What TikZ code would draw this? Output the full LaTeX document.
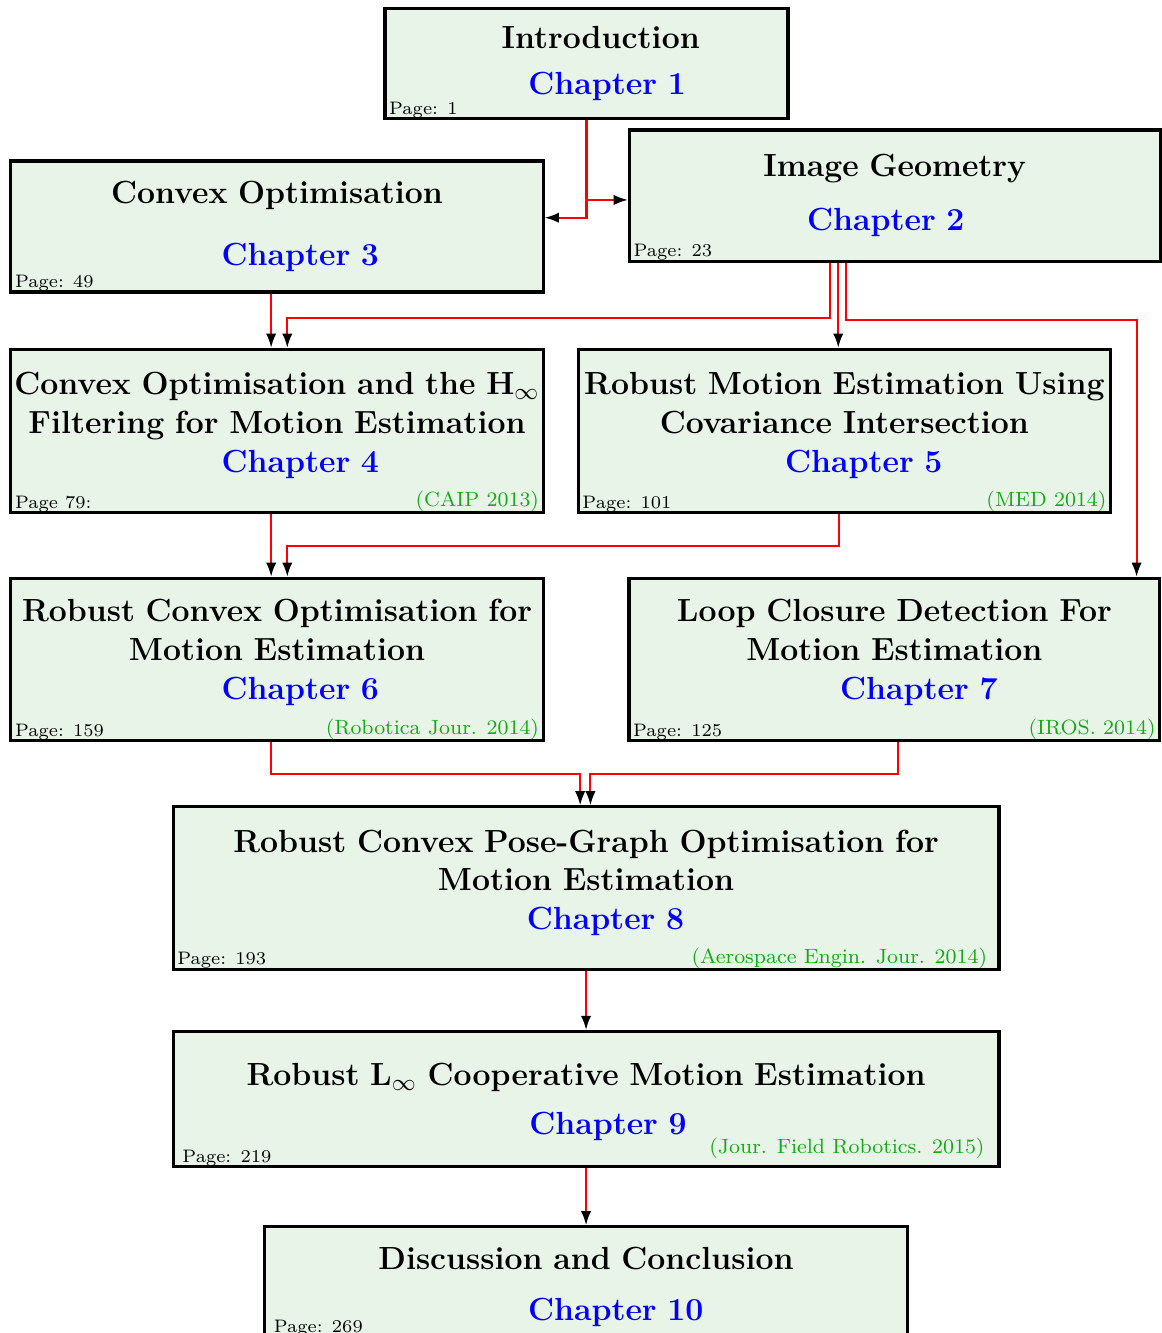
\documentclass[tikz,border=0pt]{standalone}
\usepackage{amsmath,amssymb}
\usetikzlibrary{positioning,arrows.meta}
\usepackage{xcolor}
\definecolor{boxfill}{RGB}{232,244,232}
\definecolor{venuegreen}{RGB}{20,170,20}

\begin{document}
\begin{tikzpicture}[node distance=0.8cm and 0.5cm,
  chapbox/.style={draw,line width=1.2pt,fill=boxfill,align=center,font=\fontsize{12.4}{15}\selectfont\bfseries,inner xsep=1pt,inner ysep=2pt},
  link/.style={red,line width=0.8pt,-{Latex[length=5.5pt,width=4pt,color=black]}},
  pagelbl/.style={font=\scriptsize,inner xsep=2pt,inner ysep=0.6pt,anchor=south west},
  venuelbl/.style={font=\footnotesize,text=venuegreen,inner xsep=2pt,inner ysep=0.6pt,anchor=south east}]
\useasboundingbox (0,0) rectangle (15.83,-18.16);
\node[chapbox,minimum width=5.49cm,minimum height=1.51cm,text width=5.41cm] (intro) at (7.99,-0.865)
  {\hspace*{11pt}Introduction\\[3pt]\hspace*{16pt}\textcolor{blue}{Chapter 1}};
\node[chapbox,minimum width=7.23cm,minimum height=1.785cm,text width=7.15cm] (geom) at (12.19,-2.664)
  {Image Geometry\\[6pt]\hspace*{-7pt}\textcolor{blue}{Chapter 2}};
\node[chapbox,minimum width=7.25cm,minimum height=1.785cm,text width=7.17cm] (conv) at (3.774,-3.086)
  {Convex Optimisation\\[9pt]\hspace*{18pt}\textcolor{blue}{Chapter 3}};
\node[chapbox,minimum width=7.25cm,minimum height=2.22cm,text width=7.17cm] (hinf) [below=0.738cm of conv]
  {Convex Optimisation and the H$_\infty$\\Filtering for Motion Estimation\\\hspace*{18pt}\textcolor{blue}{Chapter 4}\\[-8.4pt]\mbox{}};
\node[chapbox,minimum width=7.25cm,minimum height=2.22cm,text width=7.17cm] (covint) [right=0.438cm of hinf]
  {Robust Motion Estimation Using\\Covariance Intersection\\\hspace*{15pt}\textcolor{blue}{Chapter 5}\\[-8.4pt]\mbox{}};
\node[chapbox,minimum width=7.25cm,minimum height=2.21cm,text width=7.17cm] (robconv) [below=0.858cm of hinf]
  {Robust Convex Optimisation for\\Motion Estimation\\\hspace*{18pt}\textcolor{blue}{Chapter 6}\\[-7.2pt]\mbox{}};
\node[chapbox,minimum width=7.23cm,minimum height=2.21cm,text width=7.15cm] (loop) [right=1.128cm of robconv]
  {Loop Closure Detection For\\Motion Estimation\\\hspace*{19pt}\textcolor{blue}{Chapter 7}\\[-7.2pt]\mbox{}};
\node[chapbox,minimum width=11.25cm,minimum height=2.21cm,text width=11.17cm] (pose) at (7.984,-12.098)
  {Robust Convex Pose-Graph Optimisation for\\Motion Estimation\\\hspace*{15pt}\textcolor{blue}{Chapter 8}\\[-8.6pt]\mbox{}};
\node[chapbox,minimum width=11.25cm,minimum height=1.84cm,text width=11.17cm] (coop) [below=0.808cm of pose]
  {\mbox{}\\[-4pt]Robust L$_\infty$ Cooperative Motion Estimation\\[4pt]\hspace*{17pt}\textcolor{blue}{Chapter 9}};
\node[chapbox,minimum width=8.76cm,minimum height=1.64cm,text width=8.68cm] (concl) [below=0.778cm of coop]
  {Discussion and Conclusion\\[5pt]\hspace*{23pt}\textcolor{blue}{Chapter 10}};
% page numbers and venues
\node[pagelbl] (introPg) at (intro.south west) {Page: 1};
\node[pagelbl] (geomPg) at (geom.south west) {Page: 23};
\node[pagelbl] (convPg) at (conv.south west) {Page: 49};
\node[pagelbl] (hinfPg) at (hinf.south west) {Page 79:};
\node[venuelbl] (hinfVn) at (hinf.south east) {(CAIP 2013)};
\node[pagelbl] (covintPg) at (covint.south west) {Page: 101};
\node[venuelbl] (covintVn) at (covint.south east) {(MED 2014)};
\node[pagelbl] (robconvPg) at (robconv.south west) {Page: 159};
\node[venuelbl] (robconvVn) at (robconv.south east) {(Robotica Jour. 2014)};
\node[pagelbl] (loopPg) at (loop.south west) {Page: 125};
\node[venuelbl] (loopVn) at (loop.south east) {(IROS. 2014)};
\node[pagelbl] (posePg) at (pose.south west) {Page: 193};
\node[venuelbl] (poseVn) at ([xshift=-3pt]pose.south east) {(Aerospace Engin. Jour. 2014)};
\node[pagelbl] (coopPg) at ([xshift=2pt]coop.south west) {Page: 219};
\node[venuelbl] (coopVn) at ([xshift=-4pt,yshift=3pt]coop.south east) {(Jour. Field Robotics. 2015)};
\node[pagelbl] (conclPg) at ([xshift=2pt,yshift=4pt]concl.south west) {Page: 269};
% links
\draw[link] (intro.south) |- ([yshift=-0.06cm]geom.west);
\draw[link] (intro.south) |- ([yshift=0.12cm]conv.east);
\draw[link] ([xshift=-0.08cm]conv.south) -- ([xshift=-0.08cm]hinf.north);
\draw[link] ([xshift=-0.88cm]geom.south) -- ++(0,-0.76) -| ([xshift=0.14cm]hinf.north);
\draw[link] ([xshift=-0.77cm]geom.south) -- ([xshift=-0.77cm]geom.south |- covint.north);
\draw[link] ([xshift=-0.66cm]geom.south) -- ++(0,-0.78) -| ([xshift=3.3cm]loop.north);
\draw[link] ([xshift=-0.08cm]hinf.south) -- ([xshift=-0.08cm]robconv.north);
\draw[link] ([xshift=-0.08cm]covint.south) -- ++(0,-0.44) -| ([xshift=0.14cm]robconv.north);
\draw[link] ([xshift=-0.08cm]robconv.south) -- ++(0,-0.44) -| ([xshift=-0.08cm]pose.north);
\draw[link] ([xshift=0.05cm]loop.south) -- ++(0,-0.44) -| ([xshift=0.06cm]pose.north);
\draw[link] (pose) -- (coop);
\draw[link] (coop) -- (concl);
\end{tikzpicture}
\end{document}
